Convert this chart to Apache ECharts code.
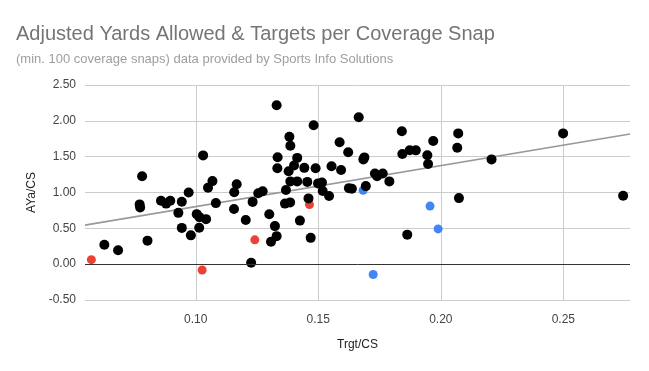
<!DOCTYPE html>
<html><head><meta charset="utf-8">
<script src="https://cdn.jsdelivr.net/npm/echarts@6/dist/echarts.min.js"></script>
<style>html,body{margin:0;padding:0;background:#fff}#c{width:649px;height:371px}</style>
</head><body><div id="c"></div>
<script>
const titleText = "Adjusted Yards Allowed & Targets per Coverage Snap";
const subtitleText = "(min. 100 coverage snaps) data provided by Sports Info Solutions";
const xName = "Trgt/CS";
const yName = "AYa/CS";
const xTicks = [0.10, 0.15, 0.20, 0.25];
const yTicks = [-0.5, 0, 0.5, 1.0, 1.5, 2.0, 2.5];

const blackX = [0.0627,0.0683,0.0771,0.0773,0.0781,0.0803,0.0858,0.0879,0.0896,0.0943,0.0971,0.0929,0.0943,0.0980,0.1004,0.1015,0.1042,0.1014,0.1030,0.1068,0.1050,0.1082,0.1157,0.1167,0.1156,0.1204,0.1232,0.1226,0.1255,0.1273,0.1300,0.1323,0.1330,0.1307,0.1330,0.1334,0.1333,0.1382,0.1386,0.1414,0.1401,0.1379,0.1443,0.1489,0.1481,0.1386,0.1414,0.1455,0.1368,0.1364,0.1385,0.1425,0.1460,0.1469,0.1499,0.1515,0.1518,0.1544,0.1554,0.1593,0.1587,0.1622,0.1665,0.1625,0.1637,0.1694,0.1688,0.1684,0.1731,0.1740,0.1763,0.1790,0.1841,0.1843,0.1873,0.1898,0.1945,0.1948,0.1969,0.1863,0.2071,0.2067,0.2074,0.2207,0.2499,0.2744];
const blackY = [0.272,0.193,0.834,0.792,1.226,0.328,0.884,0.845,0.884,0.870,1.001,0.716,0.506,0.402,0.698,0.656,0.628,0.507,1.518,1.159,1.068,0.852,1.003,1.115,0.771,0.617,0.869,0.021,0.989,1.017,0.696,0.531,0.391,0.314,2.218,1.492,1.338,1.777,1.652,1.483,1.376,1.296,1.344,1.338,1.939,1.155,1.155,1.148,1.034,0.845,0.862,0.608,0.918,0.367,1.127,1.138,1.020,0.950,1.366,1.313,1.701,1.561,2.049,1.061,1.052,1.089,1.490,1.462,1.264,1.226,1.264,1.155,1.855,1.536,1.589,1.588,1.520,1.397,1.718,0.412,1.825,1.624,0.922,1.462,1.825,0.954];
const redX = [0.0574,0.1026,0.1241,0.1464];
const redY = [0.063,-0.081,0.339,0.831];
const blueX = [0.1683,0.1724,0.1956,0.1989];
const blueY = [1.031,-0.144,0.810,0.492];
const trendX = [0.0548,0.2772];
const trendY = [0.545,1.816];

const zip = (a,b)=>a.map((v,i)=>[v,b[i]]);
const font = "Arial, 'Liberation Sans', sans-serif";
const chart = echarts.init(document.getElementById('c'), null, {renderer:'canvas'});
chart.setOption({
  animation:false,
  backgroundColor:'#fff',
  title:[
    {text:titleText, left:11, top:19, textStyle:{fontFamily:font,fontSize:20,fontWeight:'normal',color:'#757575'}},
    {text:subtitleText, left:11, top:48, textStyle:{fontFamily:font,fontSize:13,fontWeight:'normal',color:'#9e9e9e'}}
  ],
  grid:{left:85,right:19,top:85,bottom:71,containLabel:false},
  xAxis:{type:'value',min:trendX[0],max:trendX[1],
    name:xName,nameLocation:'middle',nameGap:39,
    nameTextStyle:{fontFamily:font,fontSize:12,color:'#222'},
    axisLine:{show:false},
    axisTick:{show:false,customValues:xTicks},
    axisLabel:{customValues:xTicks,formatter:v=>v.toFixed(2),fontFamily:font,fontSize:12,color:'#444',margin:14},
    splitLine:{show:true,lineStyle:{color:'#cccccc',width:1}}
  },
  yAxis:{type:'value',min:yTicks[0],max:yTicks[yTicks.length-1],interval:0.5,
    name:yName,nameLocation:'middle',nameGap:46,
    nameTextStyle:{fontFamily:font,fontSize:12,color:'#222'},
    axisLine:{show:false},axisTick:{show:false},
    axisLabel:{formatter:v=>v.toFixed(2),fontFamily:font,fontSize:12,color:'#444',margin:9},
    splitLine:{show:true,lineStyle:{color:'#cccccc',width:1}}
  },
  series:[
    {type:'line',data:zip(trendX,trendY),symbol:'none',silent:true,z:1,
      lineStyle:{color:'#999999',width:1.6},
      markLine:{silent:true,symbol:'none',label:{show:false},lineStyle:{color:'#333333',width:1,type:'solid'},data:[{yAxis:0}]}},
    {type:'scatter',data:zip(redX,redY),symbolSize:9,itemStyle:{color:'#ea4335',opacity:1},z:2},
    {type:'scatter',data:zip(blueX,blueY),symbolSize:9,itemStyle:{color:'#4285f4',opacity:1},z:2},
    {type:'scatter',data:zip(blackX,blackY),symbolSize:10,itemStyle:{color:'#000000',opacity:1},z:3}
  ]
});
</script></body></html>
